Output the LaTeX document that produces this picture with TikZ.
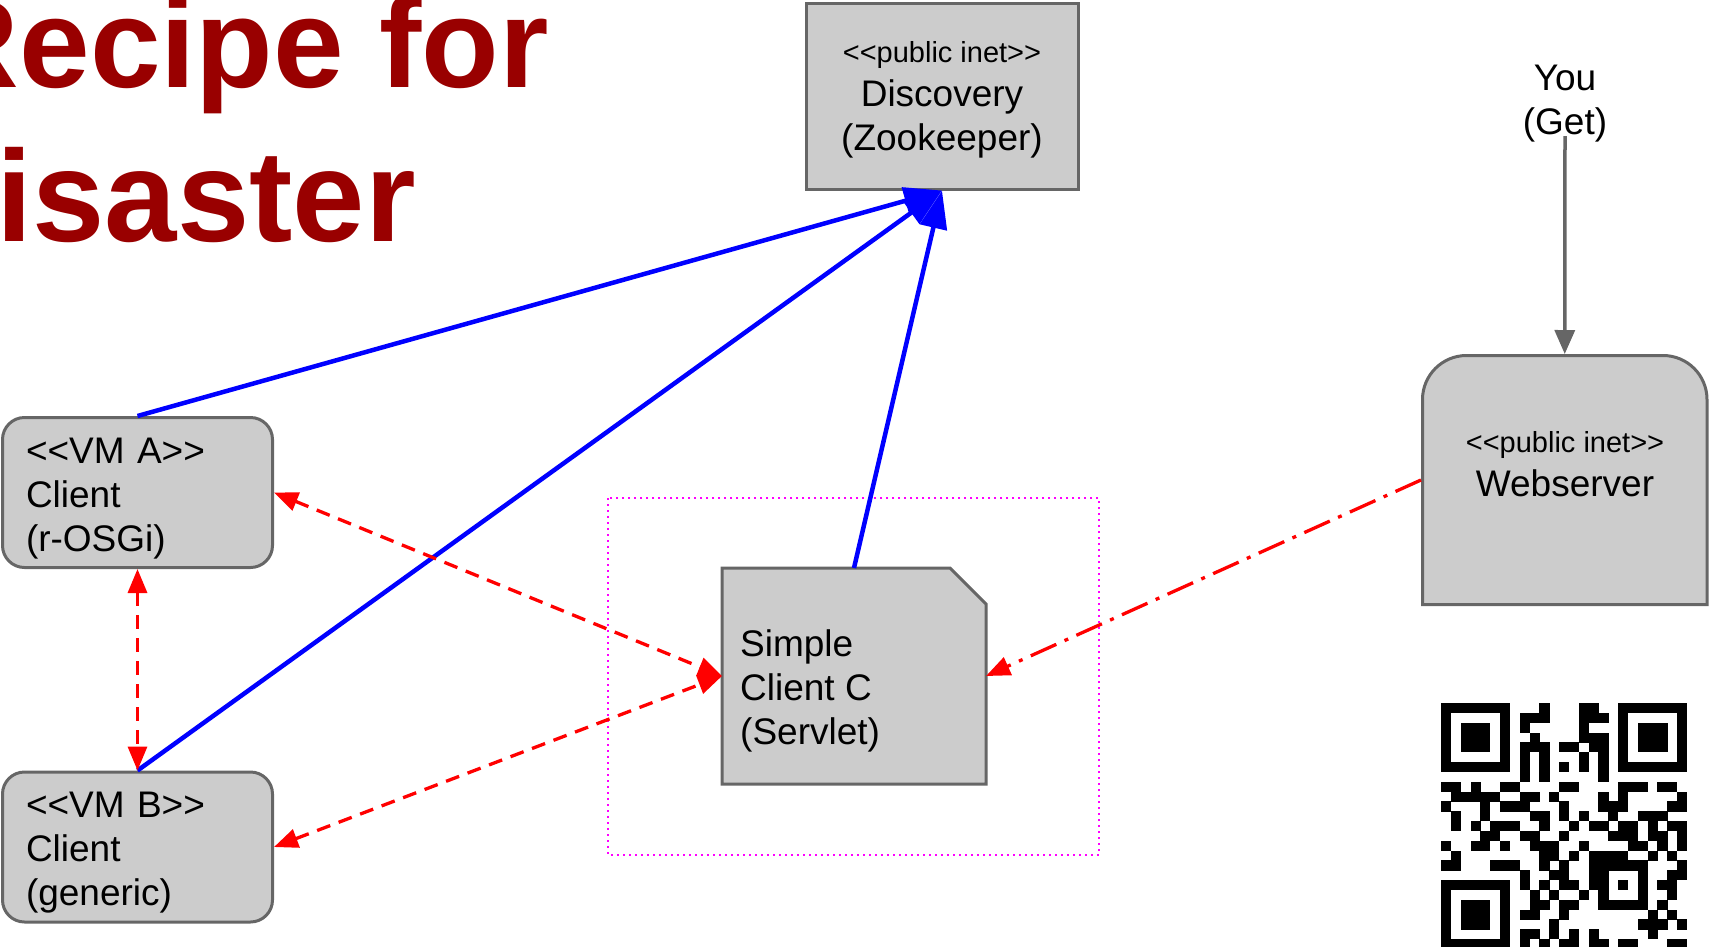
\documentclass[tikz,border=0pt]{standalone}
\usepackage{fontspec}
\setmainfont{Liberation Sans}
\usetikzlibrary{arrows.meta}
\definecolor{boxfill}{HTML}{CCCCCC}
\definecolor{boxline}{HTML}{666666}
\definecolor{titlered}{HTML}{990000}
\definecolor{dotmag}{HTML}{FF00FF}
\newcommand\twolt{<\kern0pt<}
\newcommand\twogt{>\kern0pt>}
\begin{document}
\begin{tikzpicture}[x=1pt,y=-1pt,
  box/.style={draw=boxline, fill=boxfill, line width=3pt},
  big/.style={font=\fontsize{37}{44}\selectfont},
  vmbox/.style={box, rounded corners=22pt, minimum width=270pt, minimum height=150pt,
    text width=223pt, inner xsep=23.5pt, inner ysep=0pt, align=left, big},
  bluearrow/.style={draw=blue, line width=4.5pt, -{Triangle[length=38pt,width=27pt]}},
  redtip/.style={{Triangle[length=24pt,width=19pt]}-{Triangle[length=24pt,width=19pt]}},
  reddash/.style={draw=red, line width=3.3pt, dash pattern=on 14pt off 9pt, redtip},
  reddashdot/.style={draw=red, line width=3.3pt, dash pattern=on 28pt off 9pt on 4pt off 9pt,
    -{Triangle[length=24pt,width=19pt]}},
  grayarrow/.style={draw=boxline, line width=3.5pt, -{Triangle[length=24pt,width=20pt]}},
  titletext/.style={anchor=base east, inner sep=0pt, text=titlered},
  qrmod/.style={fill=black}
]
\useasboundingbox (0,0) rectangle (1709,946);
\clip (0,0) rectangle (1709,946);

% title
\node[titletext, font=\bfseries\fontsize{127}{154}\selectfont] (title1) at (549,87) {Recipe for};
\node[titletext, font=\bfseries\fontsize{130}{154}\selectfont] (title2) at (416,241) {Disaster};

% dotted group frame
\draw[dotmag, line width=2pt, dash pattern=on 2pt off 4pt] (608,498) rectangle (1099,855);

% Discovery
\node[box, minimum width=272pt, minimum height=186pt, inner sep=0pt, align=center, big]
  (disc) at (942,96) {{\fontsize{29}{44}\selectfont\rule{0pt}{29pt}\twolt public inet\twogt}\\Discovery\\(Zookeeper)};

% VM A, VM B
\node[vmbox] (vma) at (137.5,492.5) {\rule{0pt}{37pt}\twolt VM A\twogt\\Client\\(r-OSGi)};
\node[vmbox] (vmb) at (137.5,847) {\rule{0pt}{37pt}\twolt VM B\twogt\\Client\\(generic)};

% Simple client C
\node[draw=none, line width=3pt, minimum width=261pt, minimum height=213pt, inner sep=0pt]
  (simple) at (854,676) {};
\draw[box] (simple.south west) -- (simple.north west) -- ([xshift=-36pt]simple.north east)
  -- ([yshift=-36pt]simple.north east) -- (simple.south east) -- cycle;
\node[big, align=left, anchor=north west, inner sep=0pt] (simpletext) at (740,629)
  {Simple\\Client C\\(Servlet)};

% Webserver
\node[draw=none, line width=3pt, minimum width=284.5pt, minimum height=249pt, inner sep=0pt]
  (ws) at (1564.75,480) {};
\draw[box] (1422.5,604.5) -- (1422.5,399.5) .. controls (1422.5,375.2) and (1442.2,355.5) ..
  (1466.5,355.5) -- (1663,355.5) .. controls (1687.3,355.5) and (1707,375.2) .. (1707,399.5)
  -- (1707,604.5) -- cycle;
\node[align=center, anchor=north, inner sep=0pt, big] (wstext) at (1565,431)
  {{\fontsize{29}{46}\selectfont\twolt public inet\twogt}\\Webserver};

% You
\node[align=center, anchor=north, inner sep=0pt, big] (you) at (1565,64.5) {You\\(Get)};
\draw[grayarrow] ([yshift=6pt]you.south) -- (ws.north);

% QR code
\foreach \r/\runs in {
 0/{0/6,10/10,14/15,18/24},
 1/{0/0,6/6,8/10,14/16,18/18,24/24},
 2/{0/0,2/4,6/6,8/8,14/14,18/18,20/22,24/24},
 3/{0/0,2/4,6/6,9/9,14/16,18/18,20/22,24/24},
 4/{0/0,2/4,6/6,8/10,12/13,15/16,18/18,20/22,24/24},
 5/{0/0,6/6,8/8,10/10,14/14,16/16,18/18,24/24},
 6/{0/6,8/8,10/10,12/12,14/14,16/16,18/24},
 7/{8/8,10/10,16/16},
 8/{0/1,3/3,6/7,12/13,18/20,22/23},
 9/{1/5,8/9,11/11,16/16,18/18,24/24},
 10/{0/0,4/4,6/8,12/12,16/18,23/24},
 11/{1/1,4/4,9/10,12/12,14/14,17/17,20/22},
 12/{1/1,3/3,5/7,10/10,13/13,15/16,18/19,21/21,23/24},
 13/{4/5,8/9,12/12,17/19,21/22,24/24},
 14/{0/0,3/4,6/6,9/11,14/14,19/20,22/22,24/24},
 15/{1/1,10/11,13/13,15/18,21/21,23/23},
 16/{0/1,5/7,10/10,12/12,15/20,24/24},
 17/{8/8,11/12,15/16,20/20,23/24},
 18/{0/6,8/8,10/10,12/13,15/16,18/18,20/20,22/23},
 19/{0/0,6/6,9/9,11/11,14/14,16/16,20/20,23/23},
 20/{0/0,2/4,6/6,9/10,12/13,16/20,22/22},
 21/{0/0,2/4,6/6,8/9,12/12,21/21,23/23},
 22/{0/0,2/4,6/6,11/11,20/22,24/24},
 23/{0/0,6/6,8/9,11/11,13/13,15/15,21/21},
 24/{0/6,8/8,10/10,12/13,15/16,18/19,23/24}}{
  \foreach \a/\b in \runs {
    \fill[qrmod] (1441+\a*9.84, 703+\r*9.84) rectangle (1441+\b*9.84+10.1, 703+\r*9.84+10.1);
  }
}

% connectors
\draw[bluearrow] (vma.north) -- (disc.south);
\draw[bluearrow] (vmb.north) -- (disc.south);
\draw[bluearrow] (simple.north) -- (disc.south);
\draw[reddash] (vma.east) -- (simple.west);
\draw[reddash] (vmb.east) -- (simple.west);
\draw[reddash] (vma.south) -- (vmb.north);
\draw[reddashdot] (ws.west) -- (simple.east);
\end{tikzpicture}
\end{document}
